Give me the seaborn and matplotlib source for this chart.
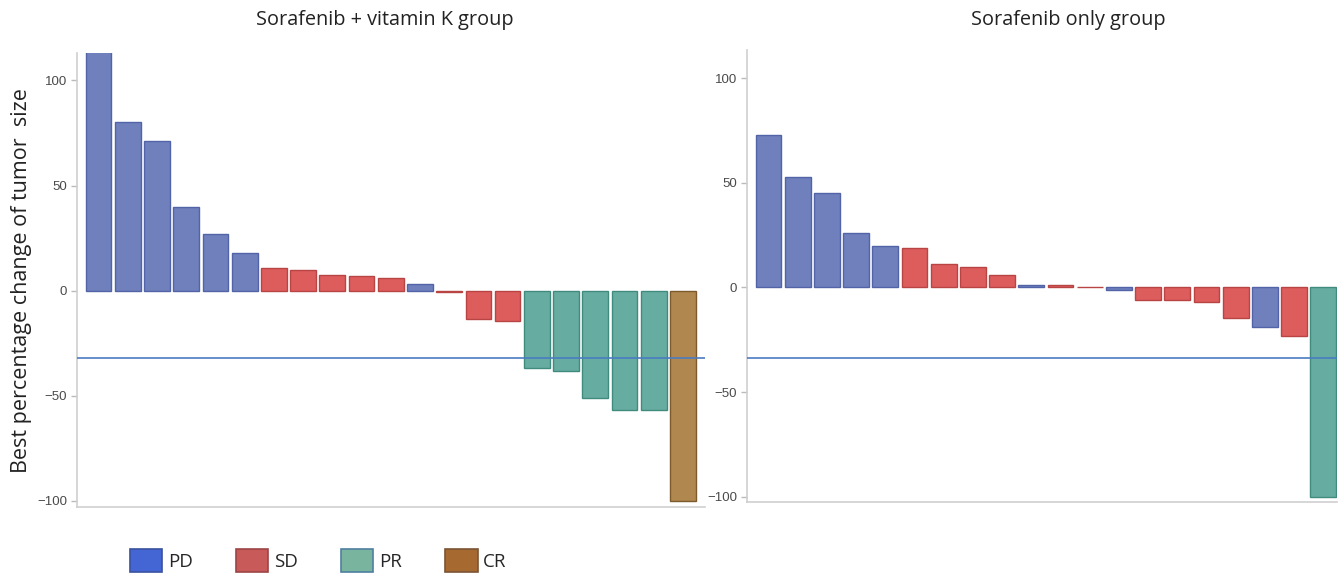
import numpy as np
import pandas as pd
import matplotlib
matplotlib.use("Agg")
import matplotlib.pyplot as plt
from matplotlib.patches import Patch
import seaborn as sns

# Best percentage change of tumour size per patient, sorted in waterfall order
combo_values = [120, 80, 71, 40, 27, 18, 11, 10, 7.6, 7, 6, 3.2, -0.6,
                -13.5, -14.5, -37, -38, -51, -57, -57, -100]
combo_response = ["PD"] * 6 + ["SD"] * 5 + ["PD"] + ["SD"] * 3 + ["PR"] * 5 + ["CR"]

mono_values = [73, 53, 45, 26, 20, 19, 11, 10, 6, 1.2, 1.0, 0.4, -1.4,
               -6, -6.2, -7, -14.4, -19, -23.3, -100]
mono_response = (["PD"] * 5 + ["SD"] * 4 + ["PD"] + ["SD"] * 2 + ["PD"]
                 + ["SD"] * 4 + ["PD"] + ["SD"] + ["PR"])

panel_titles = ["Sorafenib + vitamin K group", "Sorafenib only group"]
threshold_lines = [-32, -33.5]
y_label = "Best percentage change of tumor  size"
response_order = ["PD", "SD", "PR", "CR"]

bar_fill = {"PD": "#6f80bd", "SD": "#dd5c5c", "PR": "#67aca1", "CR": "#b0874f"}
bar_edge = {"PD": "#5263a8", "SD": "#b94444", "PR": "#3f8c7e", "CR": "#7c5a2c"}
legend_fill = {"PD": "#4466d4", "SD": "#c85a5a", "PR": "#79b59e", "CR": "#a6692f"}
legend_edge = {"PD": "#3a52a0", "SD": "#9c4545", "PR": "#4f7fa0", "CR": "#7a5535"}

sns.set_theme(style="white")
plt.rcParams["font.family"] = ["Liberation Sans", "DejaVu Sans"]

fig = plt.figure(figsize=(13.41, 5.77), dpi=100)
ax_left = fig.add_axes([0.0574, 0.121, 0.468, 0.787])
ax_right = fig.add_axes([0.557, 0.130, 0.440, 0.783])

panels = [
    (ax_left, combo_values, combo_response, (-0.74, 20.74), (-103, 113)),
    (ax_right, mono_values, mono_response, (-0.74, 19.47), (-102.6, 113.5)),
]

fill_to_edge = {matplotlib.colors.to_hex(bar_fill[k]): bar_edge[k]
                for k in response_order}

for i, (ax, vals, resp, xlim, ylim) in enumerate(panels):
    df = pd.DataFrame({"patient": np.arange(len(vals)), "change": vals,
                       "response": resp})
    sns.barplot(data=df, x="patient", y="change", hue="response",
                hue_order=response_order, palette=bar_fill, dodge=False,
                saturation=1, width=0.88, legend=False, ax=ax, zorder=2)
    # give each bar a slightly darker outline of its own colour
    for p in ax.patches:
        fc = matplotlib.colors.to_hex(p.get_facecolor())
        if fc in fill_to_edge:
            p.set_edgecolor(fill_to_edge[fc])
            p.set_linewidth(1.0)
    ax.axhline(threshold_lines[i], color="#4a7cc2", lw=1.2, zorder=3)
    ax.set_xlim(*xlim)
    ax.set_ylim(*ylim)
    ax.set_yticks([-100, -50, 0, 50, 100])
    ax.set_xticks([])
    ax.set_xlabel("")
    ax.set_ylabel("")
    for side in ["top", "right"]:
        ax.spines[side].set_visible(False)
    for side in ["left", "bottom"]:
        ax.spines[side].set_color("#cfcfcf")
        ax.spines[side].set_linewidth(1.2)
    ax.tick_params(axis="y", left=True, length=4, width=1, color="#bbbbbb",
                   labelsize=9.5, labelcolor="#4a4a4a", pad=3)

title_font = ["Open Sans", "DejaVu Sans"]
fig.text(0.287, 0.966, panel_titles[0], ha="center", va="center",
         fontsize=14.3, family=title_font, color="#222222")
fig.text(0.797, 0.966, panel_titles[1], ha="center", va="center",
         fontsize=14.3, family=title_font, color="#222222")
fig.text(0.016, 0.514, y_label, rotation=90, ha="center", va="center",
         fontsize=15.5, family=title_font, color="#222222")

handles = [Patch(facecolor=legend_fill[k], edgecolor=legend_edge[k], lw=1.2,
                 label=k) for k in response_order]
fig.legend(handles=handles, loc="lower left", bbox_to_anchor=(0.084, -0.021),
           ncol=4, frameon=False, handlelength=1.75, handleheight=1.55,
           handletextpad=0.3, columnspacing=2.28,
           prop={"family": title_font, "size": 13.5})

fig.savefig("out.png", dpi=100, facecolor="white")
